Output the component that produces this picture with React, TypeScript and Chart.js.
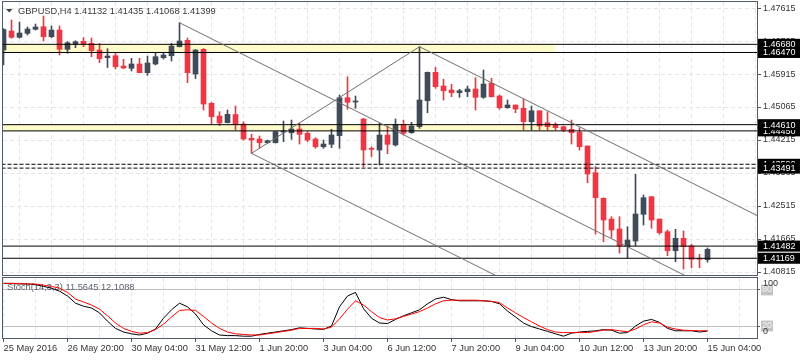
import React, { useEffect, useRef } from 'react';
import { Chart, registerables } from 'chart.js';
Chart.register(...registerables);

// ---- data (H4 bars, index 0 = 25 May 2016 12:00) ----
const opens = [1.46533,1.47023,1.46860,1.46963,1.47066,1.47133,1.46876,1.47048,1.46551,1.46680,1.46757,1.46706,1.46533,1.46335,1.46386,1.46121,1.46062,1.46173,1.45950,1.46173,1.46335,1.46386,1.46618,1.46783,1.45915,1.46551,1.45160,1.44833,1.44661,1.44872,1.44627,1.44259,1.44241,1.44145,1.44145,1.44421,1.44403,1.44498,1.44388,1.44241,1.44042,1.44104,1.44326,1.45305,1.45194,1.44756,1.43991,1.43957,1.44344,1.44086,1.44619,1.44403,1.44558,1.45227,1.45959,1.45606,1.45503,1.45433,1.45459,1.45529,1.45315,1.45675,1.45348,1.45047,1.45117,1.45032,1.44686,1.44968,1.44661,1.44601,1.44558,1.44491,1.44413,1.44061,1.43373,1.42713,1.42180,1.41923,1.41467,1.41613,1.42301,1.42755,1.42180,1.41853,1.41363,1.41683,1.41485,1.41157,1.41132];
const highs = [1.47087,1.47306,1.47254,1.47126,1.47203,1.47409,1.47151,1.47151,1.46747,1.46773,1.46855,1.46842,1.46701,1.46567,1.46464,1.46294,1.46319,1.46319,1.46379,1.46456,1.46448,1.46706,1.47236,1.46842,1.46546,1.46572,1.45186,1.44944,1.44988,1.45091,1.44686,1.44362,1.44318,1.44215,1.44434,1.44704,1.44730,1.44645,1.44429,1.44274,1.44215,1.44491,1.45374,1.45845,1.45348,1.44774,1.44042,1.44645,1.44576,1.44756,1.44730,1.44671,1.46618,1.45967,1.46088,1.45779,1.45650,1.45521,1.45606,1.45820,1.46018,1.45804,1.45374,1.45245,1.45117,1.45263,1.45091,1.44968,1.44944,1.44661,1.44576,1.44730,1.44532,1.44061,1.43527,1.42729,1.42239,1.42239,1.41982,1.43331,1.42798,1.42755,1.42180,1.41897,1.41915,1.41871,1.41528,1.41271,1.41435];
const lows = [1.46147,1.46835,1.46842,1.46920,1.47048,1.46765,1.46855,1.46404,1.46448,1.46592,1.46618,1.46361,1.46211,1.46082,1.46044,1.46052,1.45992,1.45945,1.45882,1.46147,1.46301,1.46250,1.46612,1.45691,1.45799,1.44988,1.44627,1.44588,1.44655,1.44473,1.44215,1.43872,1.44009,1.44130,1.44138,1.44171,1.44233,1.44112,1.44171,1.44001,1.44001,1.44017,1.44001,1.45006,1.45032,1.43527,1.43785,1.43571,1.43862,1.44061,1.44344,1.44388,1.44516,1.44918,1.45547,1.45245,1.45330,1.45315,1.45330,1.44988,1.45289,1.45323,1.45006,1.45032,1.44918,1.44473,1.44473,1.44473,1.44473,1.44473,1.44429,1.44112,1.43957,1.43115,1.41794,1.41595,1.41698,1.41303,1.41174,1.41498,1.42025,1.41940,1.41786,1.41235,1.41080,1.40892,1.40926,1.40926,1.41068];
const closes = [1.47061,1.46860,1.46971,1.47074,1.47126,1.46876,1.47048,1.46551,1.46721,1.46747,1.46680,1.46515,1.46309,1.46379,1.46103,1.46070,1.46173,1.45950,1.46198,1.46361,1.46404,1.46636,1.46765,1.45950,1.46533,1.45142,1.44815,1.44653,1.44877,1.44609,1.44241,1.44215,1.44145,1.44197,1.44429,1.44434,1.44498,1.44362,1.44215,1.44042,1.44112,1.44344,1.45305,1.45186,1.45212,1.43957,1.43975,1.44344,1.44104,1.44619,1.44388,1.44576,1.45245,1.45959,1.45588,1.45485,1.45433,1.45485,1.45529,1.45315,1.45657,1.45330,1.45047,1.45117,1.45013,1.44686,1.44968,1.44576,1.44558,1.44532,1.44473,1.44403,1.44042,1.43339,1.42729,1.42154,1.41897,1.41485,1.41639,1.42309,1.42729,1.42154,1.41827,1.41363,1.41683,1.41467,1.41142,1.41142,1.41399];

const stochK = [91,91,90,90,89,86,83,78,70,58,53,50,42,28,16,10,7,5,8,15,33,47,58,52,40,22,12,5,4,4,3,3,6,8,10,12,14,17,16,15,14.5,20,52,70,76,49,33,25,24,31,37,42,47,57,65,68,64,62,62,62,62,61,57,45,35,25,19,15,11,7,3,8,10,11,12,14,13,8,9,20,28,31,26,16,12,12,12,10,11.56];
const stochD = [91,91,91,90,90,88,86,83,76,65,60,55,48,37,25,16,11,8,9,14,23,35,46,47,46,36,25,16,10,7,6,5,5,7,9,11,13,16,16,16,15,18,32,48,62,55,44,34,30,32,36,40,44,50,57,62,63,63,63,63,62,61,59,50,42,34,27,20,14,10,9,9,9,9,11,13,14,12,10.5,15,22,27,25,18,15,13,12.5,12,12.11];

const dateLabels = ['25 May 2016','26 May 20:00','30 May 04:00','31 May 12:00','1 Jun 20:00','3 Jun 04:00','6 Jun 12:00','7 Jun 20:00','9 Jun 04:00','10 Jun 12:00','13 Jun 20:00','15 Jun 04:00'];
const priceTicks = [1.47615,1.46765,1.45915,1.45065,1.44215,1.43365,1.42515,1.41665,1.40815];
const stochLevels = [20, 80];

const levelValues = [1.4668, 1.4647, 1.4445, 1.4461, 1.4359, 1.43491, 1.41482, 1.41169];
const levelDashed = [false, false, false, false, true, true, false, false];
const zoneTops = [1.4668, 1.4461];
const zoneBottoms = [1.4647, 1.4445];
const zoneEndBar = 69;

const trendA = [{ x: 22, y: 1.47236 }, { x: 95, y: 1.39715 }];
const trendB = [{ x: 52, y: 1.46618 }, { x: 95, y: 1.42188 }];
const trendC = [{ x: 31, y: 1.43872 }, { x: 95, y: 1.37278 }];
const trendD = [{ x: 31, y: 1.43872 }, { x: 52, y: 1.46618 }];

const symbolTitle = 'GBPUSD,H4 1.41132 1.41435 1.41068 1.41399';
const stochTitle = 'Stoch(14,3,3) 11.5645 12.1088';

// ---- styles ----
const UP = '#404b5a';
const DOWN = '#f33442';
const YELLOW = '#fffccb';
const GRID = '#e6e6e6';
const FRAME = '#515b67';
const TEXT = '#333333';
const FONT = '"Liberation Sans", Arial, sans-serif';
const X_MIN = -0.0625;
const X_MAX = 94.1875;

const gridTicks: number[] = [];
for (let v = 0; v <= 92; v += 4) gridTicks.push(v);

const noPad = (s: any) => {
  s.paddingTop = 0;
  s.paddingBottom = 0;
  s.paddingLeft = 0;
  s.paddingRight = 0;
};

const frameRect = (chart: any) => {
  const { ctx, chartArea: a } = chart;
  ctx.save();
  ctx.strokeStyle = FRAME;
  ctx.lineWidth = 1;
  ctx.strokeRect(a.left - 0.5, a.top - 0.5, a.right - a.left + 1, a.bottom - a.top + 1);
  ctx.restore();
};

const mainOverlay = {
  id: 'mainOverlay',
  afterDraw(chart: any) {
    const { ctx, chartArea: a, scales } = chart;
    frameRect(chart);
    ctx.save();
    ctx.font = `9px ${FONT}`;
    ctx.textBaseline = 'middle';
    ctx.textAlign = 'left';
    levelValues.forEach((v) => {
      const py = scales.y.getPixelForValue(v);
      ctx.fillStyle = '#000';
      ctx.fillRect(a.right + 1, py - 5.5, 800 - a.right - 1, 11);
      ctx.fillStyle = '#fff';
      ctx.fillText(v.toFixed(5), a.right + 6, py + 0.5);
    });
    // title
    ctx.fillStyle = '#3a3f47';
    ctx.beginPath();
    ctx.moveTo(6, 9);
    ctx.lineTo(12.5, 9);
    ctx.lineTo(9.25, 12.5);
    ctx.closePath();
    ctx.fill();
    ctx.fillStyle = '#3a3a3a';
    ctx.font = `9.3px ${FONT}`;
    ctx.fillText(symbolTitle, 18, 11);
    ctx.restore();
  },
};

const stochOverlay = {
  id: 'stochOverlay',
  beforeDatasetsDraw(chart: any) {
    const { ctx, chartArea: a } = chart;
    ctx.save();
    ctx.fillStyle = '#5a626d';
    ctx.font = `9.3px ${FONT}`;
    ctx.textBaseline = 'middle';
    ctx.textAlign = 'left';
    ctx.fillText(stochTitle, a.left + 4, a.top + 9.5);
    ctx.restore();
  },
  afterDraw(chart: any) {
    const { ctx, chartArea: a } = chart;
    frameRect(chart);
    ctx.save();
    ctx.fillStyle = TEXT;
    ctx.font = `9px ${FONT}`;
    ctx.textBaseline = 'middle';
    ctx.textAlign = 'left';
    ctx.fillText('100', a.right + 6, a.top + 6);
    ctx.fillText('0', a.right + 6, a.bottom - 6);
    ctx.restore();
  },
};

export default function App() {
  const mainRef = useRef<HTMLCanvasElement>(null);
  const stochRef = useRef<HTMLCanvasElement>(null);

  useEffect(() => {
    const idx = opens.map((_, i) => i);
    const colors = idx.map((i) => (closes[i] >= opens[i] ? UP : DOWN));

    const zoneSets = zoneTops.map((top, k) => ({
      type: 'line',
      data: [{ x: -1, y: top }, { x: zoneEndBar, y: top }],
      fill: { value: zoneBottoms[k] },
      backgroundColor: YELLOW,
      borderWidth: 0,
      pointRadius: 0,
      order: 10,
    }));
    const levelSets = levelValues.map((v, k) => ({
      type: 'line',
      data: [{ x: -1, y: v }, { x: 100, y: v }],
      borderColor: '#000',
      borderWidth: 1,
      borderDash: levelDashed[k] ? [4, 2] : [],
      pointRadius: 0,
      fill: false,
      order: 2,
    }));
    const trendSets = [trendA, trendB, trendC, trendD].map((t) => ({
      type: 'line',
      data: t,
      borderColor: '#6f6f6f',
      borderWidth: 1,
      pointRadius: 0,
      fill: false,
      order: 1,
    }));

    const main = new Chart(mainRef.current as HTMLCanvasElement, {
      type: 'bar',
      data: {
        datasets: [
          ...zoneSets,
          {
            type: 'bar',
            data: idx.map((i) => ({ x: i, y: [lows[i], highs[i]] })),
            backgroundColor: colors,
            barThickness: 1,
            grouped: false,
            order: 6,
          },
          {
            type: 'bar',
            data: idx.map((i) => ({ x: i, y: [opens[i], closes[i]] })),
            backgroundColor: colors,
            barThickness: 5,
            minBarLength: 1,
            grouped: false,
            order: 5,
          },
          ...levelSets,
          ...trendSets,
        ] as any,
      },
      options: {
        animation: false,
        responsive: false,
        events: [],
        layout: { padding: { left: 3, top: 2, right: 0, bottom: 1 } },
        plugins: { legend: { display: false }, tooltip: { enabled: false } },
        scales: {
          x: {
            type: 'linear',
            min: X_MIN,
            max: X_MAX,
            offset: false,
            afterBuildTicks: (s: any) => { s.ticks = gridTicks.map((v) => ({ value: v })); },
            ticks: { display: false },
            grid: { color: GRID, drawTicks: false },
            border: { display: false, dash: [4, 3] },
            afterFit: (s: any) => { s.height = 0; noPad(s); },
          },
          y: {
            type: 'linear',
            position: 'right',
            min: 1.40738,
            max: 1.4777,
            afterBuildTicks: (s: any) => { s.ticks = priceTicks.map((v) => ({ value: v })); },
            ticks: {
              autoSkip: false,
              padding: 2,
              color: TEXT,
              font: { family: FONT, size: 9 },
              callback: (v: any) => Number(v).toFixed(5),
            },
            grid: { color: GRID, tickLength: 4, tickColor: '#555', drawTicks: true },
            border: { display: false, dash: [4, 3] },
            afterFit: (s: any) => { s.width = 43; noPad(s); },
          },
        },
      } as any,
      plugins: [mainOverlay],
    });

    const stoch = new Chart(stochRef.current as HTMLCanvasElement, {
      type: 'line',
      data: {
        datasets: [
          {
            data: idx.map((i) => ({ x: i, y: stochK[i] })),
            borderColor: '#000',
            borderWidth: 1,
            pointRadius: 0,
            fill: false,
            order: 1,
          },
          {
            data: idx.map((i) => ({ x: i, y: stochD[i] })),
            borderColor: '#ff0000',
            borderWidth: 1,
            pointRadius: 0,
            fill: false,
            order: 0,
          },
        ],
      },
      options: {
        animation: false,
        responsive: false,
        events: [],
        layout: { padding: { left: 3, top: 2, right: 0, bottom: 0 } },
        plugins: { legend: { display: false }, tooltip: { enabled: false } },
        scales: {
          x: {
            type: 'linear',
            min: X_MIN,
            max: X_MAX,
            afterBuildTicks: (s: any) => { s.ticks = gridTicks.map((v) => ({ value: v })); },
            ticks: {
              autoSkip: false,
              maxRotation: 0,
              minRotation: 0,
              align: 'start',
              padding: 1,
              color: TEXT,
              font: { family: FONT, size: 9.3 },
              callback: (v: any) => (Number(v) % 8 === 0 ? dateLabels[Number(v) / 8] ?? '' : ''),
            },
            grid: {
              color: GRID,
              tickLength: 4,
              tickColor: (c: any) => (c.tick && c.tick.value % 8 === 0 ? '#555' : 'rgba(0,0,0,0)'),
            },
            border: { display: false, dash: [4, 3] },
            afterFit: (s: any) => { s.height = 22; noPad(s); },
          },
          y: {
            type: 'linear',
            position: 'right',
            min: 0,
            max: 100,
            afterBuildTicks: (s: any) => { s.ticks = stochLevels.map((v) => ({ value: v })); },
            ticks: {
              autoSkip: false,
              padding: 2,
              color: '#f4f4f4',
              showLabelBackdrop: true,
              backdropColor: '#c2c2c2',
              backdropPadding: { x: 1, y: 0 },
              font: { family: FONT, size: 9 },
              callback: (v: any) => String(v),
            },
            grid: { color: '#c0c0c0', tickLength: 3, tickColor: '#555' },
            border: { display: false },
            afterFit: (s: any) => { s.width = 43; noPad(s); },
          },
        },
      } as any,
      plugins: [stochOverlay],
    });

    return () => {
      main.destroy();
      stoch.destroy();
    };
  }, []);

  return (
    <div style={{ position: 'fixed', left: 0, top: 0, width: 800, height: 360, background: '#fff', overflow: 'hidden' }}>
      <canvas ref={mainRef} width={800} height={276} style={{ position: 'absolute', left: 0, top: 0, width: 800, height: 276 }} />
      <canvas ref={stochRef} width={800} height={84} style={{ position: 'absolute', left: 0, top: 276, width: 800, height: 84 }} />
    </div>
  );
}
